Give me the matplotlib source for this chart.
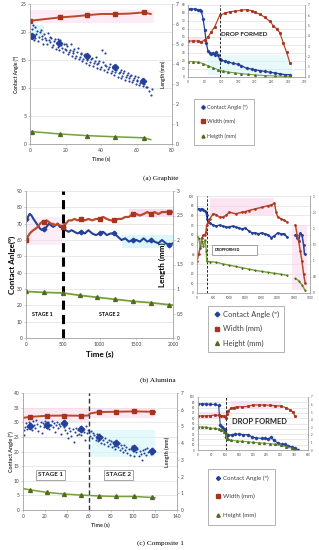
import matplotlib.pyplot as plt
from matplotlib.lines import Line2D
from matplotlib.patches import Rectangle

plt.rcParams['font.family'] = ['Lato', 'DejaVu Sans']

BLUE = '#23409A'
RED = '#A8341F'
REDLINE = '#B84A2C'
GREEN = '#76A03A'
GREENMK = '#4E6B1F'
GRID = '#D9D9D9'
AXC = '#A6A6A6'
PINK = '#FBD3EA'
CYAN = '#D3F5F8'
W, H = 319, 550

# ---------------- (a) Graphite: main chart ----------------
a_ca_t = [0, 1, 1, 2, 3, 3, 4, 5, 6, 7, 8, 9, 10, 11, 12, 13, 14, 15, 16, 17, 18, 19,
          20, 21, 22, 23, 24, 25, 26, 27, 28, 29, 30, 31, 32, 33, 34, 35, 36, 37, 38, 39,
          40, 41, 42, 43, 44, 45, 46, 47, 48, 49, 50, 51, 52, 53, 54, 55, 56, 57, 58, 59,
          60, 61, 62, 63, 64, 65, 66, 67, 68, 69]
a_ca = [19.8, 20.6, 18.9, 19.4, 20.9, 19.0, 20.2, 19.1, 20.4, 18.7, 19.6, 18.5, 19.9, 18.2,
        18.9, 17.6, 18.8, 18.0, 17.3, 18.6, 17.2, 17.9, 16.7, 17.5, 16.4, 17.8, 16.2, 16.9,
        15.8, 17.1, 15.6, 16.3, 15.2, 16.1, 15.0, 15.7, 14.6, 15.4, 14.4, 15.6, 14.2, 14.9,
        13.8, 14.6, 16.2, 13.9, 13.4, 14.3, 13.1, 14.0, 12.8, 13.6, 12.6, 13.3, 12.2, 13.0,
        12.0, 12.7, 11.8, 12.4, 11.5, 12.2, 11.2, 11.9, 10.9, 11.6, 10.7, 11.2, 10.2, 9.4,
        8.8, 9.8]
a_ca_t2 = [0.5, 1.5, 2.5, 3.5, 4.5, 5.5, 6.5, 7.5, 8.5, 9.5, 10.5, 11.5, 12.5, 13.5, 14.5,
           15.5, 16.5, 17.5, 18.5, 19.5, 20.5, 21.5, 22.5, 23.5, 24.5, 25.5, 26.5, 27.5,
           28.5, 29.5, 30.5, 31.5, 32.5, 33.5, 34.5, 35.5, 36.5, 37.5, 38.5, 39.5, 40.5,
           41.5, 42.5, 43.5, 44.5, 45.5, 46.5, 47.5, 48.5, 49.5, 50.5, 51.5, 52.5, 53.5,
           54.5, 55.5, 56.5, 57.5, 58.5, 59.5, 60.5, 61.5, 62.5, 63.5, 64.5, 65.5]
a_ca2 = [19.0, 21.3, 18.6, 19.7, 18.4, 20.0, 19.2, 17.9, 18.9, 17.8, 18.5, 19.1, 17.3, 18.4,
         17.0, 18.7, 16.8, 17.6, 16.5, 17.0, 17.9, 16.0, 16.8, 15.7, 16.6, 15.4, 16.4, 15.1,
         16.0, 14.8, 15.9, 14.5, 15.3, 14.1, 15.2, 13.9, 14.8, 13.6, 14.5, 13.4, 16.8, 13.2,
         14.1, 12.9, 13.8, 12.6, 13.5, 12.3, 13.2, 12.0, 12.9, 11.8, 12.6, 11.5, 12.3, 11.2,
         12.1, 11.0, 11.7, 10.8, 11.5, 10.5, 11.3, 10.4, 11.0, 10.1]
a_mark_t = [1, 16.6, 32, 48, 63.5]
a_mark_ca = [19.3, 18.0, 15.7, 13.8, 11.3]
a_w_t = [0, 8, 17, 25, 32, 40, 48, 56, 64, 68]
a_w = [6.16, 6.24, 6.33, 6.38, 6.44, 6.50, 6.50, 6.52, 6.58, 6.50]
a_h_t = [0, 1, 17, 32, 48, 64, 68]
a_h = [0.64, 0.62, 0.50, 0.42, 0.36, 0.31, 0.22]

# ---------------- (a) inset ----------------
ia_ca_t = [0, 10, 20, 30, 35, 40, 45, 50, 55, 60, 65, 70, 75, 80, 85, 90, 95, 100, 110, 120,
           135, 150, 160, 175, 190, 200, 215, 230, 245, 260, 275, 290, 305]
ia_ca = [85, 85, 85, 84, 84, 82, 73, 59, 42, 32, 30, 29, 30, 28, 31, 27, 22, 21, 20, 19,
         17, 16, 14, 11, 10, 9, 8, 7, 6, 5, 4, 3, 3]
ia_w_t = [0, 15, 30, 40, 50, 60, 70, 80, 95, 110, 125, 140, 160, 175, 190, 200, 215, 230,
          245, 255, 265, 275, 285, 295, 305]
ia_w = [3.5, 3.5, 3.5, 3.4, 3.6, 3.9, 4.4, 4.9, 6.0, 6.2, 6.35, 6.4, 6.5, 6.55, 6.45, 6.3,
        6.1, 5.8, 5.4, 5.0, 4.7, 4.3, 3.3, 2.4, 1.35]
ia_h_t = [0, 15, 30, 45, 60, 75, 90, 105, 120, 140, 160, 180, 200, 230, 260, 290, 305]
ia_h = [1.5, 1.5, 1.45, 1.3, 1.1, 0.9, 0.7, 0.58, 0.48, 0.4, 0.33, 0.26, 0.2, 0.14, 0.1,
        0.07, 0.06]

# ---------------- (b) Alumina: main chart ----------------
b_t = [0, 25, 50, 75, 100, 130, 160, 190, 220, 250, 280, 310, 340, 370, 400, 430, 460, 500,
       540, 580, 620, 660, 700, 750, 800, 850, 900, 950, 1000, 1050, 1100, 1150, 1200, 1250,
       1300, 1350, 1400, 1450, 1500, 1550, 1600, 1650, 1700, 1750, 1800, 1850, 1900, 1950,
       2000]
b_ca = [73, 74, 76, 75, 73, 71, 69, 67, 66, 67, 68, 70, 69, 68, 69, 70, 68, 68, 66, 65, 66,
        65, 64, 65, 64, 66, 64, 63, 64, 65, 63, 64, 64, 62, 60, 61, 59, 60, 60, 59, 61, 59,
        60, 59, 58, 60, 58, 57, 58]
b_w = [2.00, 2.07, 2.13, 2.17, 2.20, 2.23, 2.27, 2.33, 2.37, 2.37, 2.40, 2.37, 2.33, 2.33,
       2.30, 2.33, 2.30, 2.27, 2.33, 2.40, 2.40, 2.43, 2.40, 2.43, 2.40, 2.43, 2.40, 2.43,
       2.43, 2.47, 2.43, 2.40, 2.40, 2.43, 2.43, 2.47, 2.47, 2.53, 2.53, 2.50, 2.53, 2.57,
       2.53, 2.57, 2.53, 2.57, 2.57, 2.57, 2.57]
b_h_t = [0, 250, 500, 730, 970, 1210, 1450, 1700, 1940, 2000]
b_h = [0.95, 0.93, 0.92, 0.87, 0.83, 0.79, 0.75, 0.72, 0.68, 0.67]

# ---------------- (b) inset ----------------
ib_ca_t = [0, 50, 100, 150, 200, 250, 280, 300, 320, 350, 400, 500, 600, 700, 800, 900,
           1000, 1100, 1200, 1300, 1400, 1500, 1600, 1700, 1800, 1900, 2000, 2100, 2200,
           2300, 2400, 2500, 2600, 2700, 2780]
ib_ca = [87, 87, 86, 87, 86, 85, 84, 80, 76, 74, 72, 70, 69, 70, 69, 68, 68, 69, 68, 67,
         66, 67, 64, 62, 62, 61, 62, 61, 60, 57, 59, 62, 61, 61, 58]
ib_ca2_t = [3050, 3100, 3150, 3200, 3250, 3300, 3330]
ib_ca2 = [60, 57, 54, 62, 60, 50, 40]
ib_w_t = [0, 50, 100, 150, 200, 250, 280, 300, 350, 400, 500, 600, 700, 800, 900, 1000,
          1200, 1400, 1500, 1600, 1800, 2000, 2200, 2300, 2400, 2450, 2500, 2600, 2700, 2780]
ib_w = [0.98, 1.2, 1.4, 1.7, 1.8, 1.8, 1.9, 2.1, 2.2, 2.3, 2.45, 2.42, 2.34, 2.35, 2.4, 2.5,
        2.45, 2.5, 2.52, 2.55, 2.6, 2.65, 2.7, 2.72, 2.78, 2.5, 2.35, 2.3, 2.25, 2.2]
ib_w2_t = [3050, 3100, 3150, 3200, 3250, 3300, 3350]
ib_w2 = [2.1, 1.8, 1.6, 1.3, 1.0, 0.6, 0.3]
ib_h_t = [0, 50, 100, 150, 200, 250, 290, 300, 400, 600, 800, 1000, 1200, 1400, 1600, 1800,
          2000, 2200, 2400, 2600, 2780]
ib_h = [1.75, 1.7, 1.45, 1.6, 1.45, 1.65, 1.3, 0.98, 0.97, 0.95, 0.9, 0.86, 0.82, 0.78,
        0.74, 0.7, 0.67, 0.64, 0.61, 0.58, 0.55]
ib_h2_t = [3050, 3150, 3250, 3350]
ib_h2 = [0.45, 0.38, 0.25, 0.08]

# ---------------- (c) Composite 1: main chart ----------------
c_ca_t = [0.5, 1, 2, 3, 4, 5, 6, 7, 8, 9, 10, 11, 12, 13, 14, 15, 16, 17, 18, 19, 20, 21,
          22, 23, 24, 25, 26, 27, 28, 29, 30, 31, 32, 33, 34, 35, 36, 37, 38, 39, 40, 41,
          42, 43, 44, 45, 46, 47, 48, 49, 50, 51, 52, 53, 54, 55, 56, 57, 58, 59, 60, 61,
          62, 63, 64, 65, 66, 67, 68, 69, 70, 71, 72, 73, 74, 75, 76, 77, 78, 79, 80, 81,
          82, 83, 84, 85, 86, 87, 88, 89, 90, 91, 92, 93, 94, 95, 96, 97, 98, 99, 100, 101,
          102, 103, 104, 105, 106, 107, 108, 109, 110, 111, 112, 113, 114, 115, 116, 117, 118]
c_ca = [25.5, 27.2, 28.4, 29.6, 27.8, 30.1, 28.9, 29.5, 27.4, 30.3,
        29.1, 28.2, 30.6, 29.4, 27.0, 28.8, 30.0, 26.2, 29.8, 28.5,
        30.4, 29.6, 28.0, 30.2, 27.6, 29.2, 30.5, 28.3, 29.9, 26.8,
        28.9, 30.1, 27.9, 29.3, 28.6, 26.1, 29.8, 28.4, 27.2, 29.0,
        26.4, 24.6, 28.2, 26.9, 25.2, 27.6, 23.4, 26.5, 28.1, 25.8,
        27.3, 26.0, 28.4, 25.5, 27.8, 26.6, 24.1, 28.6, 26.2, 27.4,
        26.8, 25.4, 27.1, 24.6, 26.2, 25.8, 24.0, 25.9, 23.6, 25.2,
        24.4, 22.8, 25.0, 23.9, 22.4, 24.6, 23.1, 21.8, 24.0, 22.6,
        23.5, 21.4, 23.2, 22.0, 20.8, 23.4, 21.6, 22.8, 20.6, 22.1,
        21.2, 19.8, 22.3, 20.4, 21.6, 19.6, 21.0, 18.9, 20.8, 22.0,
        20.2, 18.6, 21.4, 19.7, 20.9, 18.4, 20.3, 19.1, 17.2, 20.6,
        19.4, 20.8, 18.8, 21.2, 19.9, 20.6, 19.3, 21.0, 20.1]
c_mark_t = [6, 22, 37, 53, 69, 85, 101, 117]
c_mark_ca = [28.8, 29.1, 29.7, 27.7, 24.8, 22.9, 21.1, 20.3]
c_w_t = [0, 6, 22, 37, 53, 59, 61, 69, 85, 101, 117, 120]
c_w = [5.51, 5.57, 5.64, 5.65, 5.64, 5.65, 5.78, 5.86, 5.88, 5.90, 5.88, 5.86]
c_h_t = [0, 6, 22, 37, 53, 69, 85, 101, 117, 120]
c_h = [1.28, 1.21, 1.05, 0.96, 0.89, 0.84, 0.81, 0.81, 0.75, 0.74]

# ---------------- (c) inset ----------------
ic_ca_t = [0, 15, 30, 45, 60, 75, 81, 87, 93, 99, 101, 110, 123, 135, 150, 165, 183, 195,
           210, 231, 245, 255, 265, 275, 292, 305, 316, 328, 340, 352, 364]
ic_ca = [87, 87, 87, 86, 86, 84, 47, 44, 40, 37, 25, 28, 29, 30, 30, 29, 29, 25, 23, 22,
         22, 21, 24, 19, 12.5, 11, 10.5, 8, 6, 3, 0.5]
ic_w_t = [0, 15, 30, 45, 60, 75, 85, 95, 100, 105, 110, 120, 130, 140, 160, 180, 200, 220,
          240, 260, 280, 300, 320, 335, 345, 352]
ic_w = [4.5, 4.5, 4.5, 4.55, 4.6, 4.6, 4.55, 4.5, 4.2, 4.8, 5.2, 5.5, 5.6, 5.7, 5.7, 5.75,
        5.95, 5.95, 5.95, 5.9, 5.85, 5.8, 5.6, 5.3, 5.0, 4.5]
ic_h_t = [0, 15, 30, 45, 60, 75, 85, 95, 100, 105, 110, 120, 140, 160, 180, 200, 220, 240,
          260, 280, 300, 320, 340, 350]
ic_h = [3.05, 3.05, 3.0, 2.9, 2.85, 2.8, 2.6, 2.4, 2.2, 1.5, 1.4, 1.3, 1.2, 1.15, 1.1, 1.0,
        0.95, 0.9, 0.85, 0.75, 0.6, 0.45, 0.25, 0.1]


fig = plt.figure(figsize=(W / 100, H / 100), dpi=100)


def box(x0, y0, x1, y1):
    # pixel box (top-left origin) -> figure rect
    return [x0 / W, 1 - y1 / H, (x1 - x0) / W, (y1 - y0) / H]


def style(ax, ax2, fs, tick_len=1.5):
    for a in (ax, ax2):
        for s in a.spines.values():
            s.set_color(AXC)
            s.set_linewidth(0.5)
        a.spines['top'].set_visible(False)
        a.tick_params(labelsize=fs, length=tick_len, width=0.4, color=AXC, pad=1.2,
                      labelcolor='#404040')
    ax.grid(axis='y', color=GRID, lw=0.4)
    ax.set_axisbelow(True)


def legend(x, y, fs, spacing, pad, labels, ms):
    handles = [Line2D([], [], ls='none', marker='D', color=BLUE, ms=ms * 0.85),
               Line2D([], [], ls='none', marker='s', color=RED, ms=ms),
               Line2D([], [], ls='none', marker='^', color=GREENMK, ms=ms)]
    leg = fig.legend(handles, labels, loc='upper left', bbox_to_anchor=(x / W, 1 - y / H),
                     frameon=True, fancybox=False, edgecolor=AXC, framealpha=1,
                     fontsize=fs, labelspacing=spacing, borderpad=pad, handlelength=1.0,
                     handletextpad=0.3)
    leg.get_frame().set_linewidth(0.6)
    for t in leg.get_texts():
        t.set_color('#404040')


serif = ['Liberation Serif', 'DejaVu Serif']

# ====== (a) main ======
ax = fig.add_axes(box(30, 4, 172, 144))
ax2 = ax.twinx()
style(ax, ax2, 3.6)
ax.fill_between([0, 70], 21.6, 23.9, color=PINK, lw=0, alpha=0.45)
ax.fill_between([0, 8], 19.2, 21.2, color=CYAN, lw=0, alpha=0.8)
ax.scatter(a_ca_t, a_ca, s=2.4, color=BLUE, lw=0)
ax.scatter(a_ca_t2, a_ca2, s=2.4, color=BLUE, lw=0)
ax.plot(a_mark_t, a_mark_ca, ls='none', marker='D', ms=3.2, color=BLUE)
ax2.plot(a_w_t, a_w, color=REDLINE, lw=1.4, marker='s', ms=2.6, mfc=RED, mec=RED,
         markevery=[0, 2, 4, 6, 8])
ax2.plot(a_h_t, a_h, color=GREEN, lw=1.1, marker='^', ms=2.8, mfc=GREENMK, mec=GREENMK,
         markevery=[1, 2, 3, 4, 5])
ax.set_xlim(0, 80)
ax.set_ylim(0, 25)
ax2.set_ylim(0, 7)
ax.set_xticks([0, 20, 40, 60, 80])
ax.set_yticks([0, 5, 10, 15, 20, 25])
ax2.set_yticks(range(8))
ax.set_xlabel('Time (s)', fontsize=3.8, fontweight='bold', color='#333333')
ax.xaxis.set_label_coords(0.5, -0.09)
ax.set_ylabel('Contact Angle (º)', fontsize=3.6, fontweight='bold', color='#333333')
ax.yaxis.set_label_coords(-0.075, 0.5)
ax2.set_ylabel('Length (mm)', fontsize=3.6, fontweight='bold', color='#333333')
ax2.yaxis.set_label_coords(0.92, 0.5)

# ====== (a) inset ======
ia = fig.add_axes(box(188, 5, 305, 77))
ia2 = ia.twinx()
style(ia, ia2, 2.2, 1)
ia.fill_between([0, 60], 41, 50, color=PINK, lw=0, alpha=0.6)
ia.fill_between([60, 310], 2, 28, color=CYAN, lw=0, alpha=0.5)
ia.plot(ia_ca_t, ia_ca, color=BLUE, lw=0.9, marker='D', ms=1.2)
ia2.plot(ia_w_t, ia_w, color=REDLINE, lw=0.9, marker='s', ms=1.1, mfc=RED, mec=RED)
ia2.plot(ia_h_t, ia_h, color=GREEN, lw=0.8, marker='^', ms=1.2, mfc=GREENMK, mec=GREENMK)
ia.axvline(95, color='black', ls=(0, (3, 2)), lw=0.6)
ia.text(100, 53, 'DROP FORMED', fontsize=4.6, fontweight='bold', color='#222222',
        va='center')
ia.set_xlim(0, 350)
ia.set_ylim(0, 90)
ia2.set_ylim(0, 7)
ia.set_xticks(range(0, 351, 50))
ia.set_yticks(range(0, 91, 10))
ia2.set_yticks(range(8))

legend(191, 96, 4.0, 1.55, 1.1, ['Contact Angle (º)', 'Width (mm)', 'Heigth (mm)'], 2.2)
fig.text(161 / W, 1 - 178 / H, '(a) Graphite', family=serif, fontsize=5.2, ha='center',
         va='center')

# ====== (b) main ======
bx = fig.add_axes(box(26, 191, 173, 338))
bx2 = bx.twinx()
style(bx, bx2, 3.5)
bx.fill_between([0, 500], 57, 74, color=PINK, lw=0, alpha=0.4)
bx.fill_between([1400, 2000], 74, 79, color=PINK, lw=0, alpha=0.8)
bx.fill_between([1300, 2000], 55, 63, color=CYAN, lw=0, alpha=0.8)
bx.plot(b_t, b_ca, color=BLUE, lw=1.5, marker='D', ms=2.4,
        markevery=[0, 9, 17, 23, 28, 32, 37, 42, 47])
bx2.plot(b_t, b_w, color=REDLINE, lw=1.6, marker='s', ms=2.4, mfc=RED, mec=RED,
         markevery=[0, 9, 17, 23, 28, 32, 37, 42, 47])
bx2.plot(b_h_t, b_h, color=GREEN, lw=1.3, marker='^', ms=2.8, mfc=GREENMK, mec=GREENMK,
         markevery=[0, 1, 2, 3, 4, 5, 6, 7, 8])
bx.axvline(500, color='black', ls=(0, (3, 1.7)), lw=2.2)
bx.text(222, 14.3, 'STAGE 1', fontsize=3.8, fontweight='bold', ha='center', va='center')
bx.text(1134, 14.3, 'STAGE 2', fontsize=3.8, fontweight='bold', ha='center', va='center')
bx.set_xlim(0, 2000)
bx.set_ylim(0, 90)
bx2.set_ylim(0, 3)
bx.set_xticks([0, 500, 1000, 1500, 2000])
bx.set_yticks(range(0, 91, 10))
bx2.set_yticks([0, 0.5, 1, 1.5, 2, 2.5, 3])
bx2.set_yticklabels(['0', '0.5', '1', '1.5', '2', '2.5', '3'])
bx.set_xlabel('Time (s)', fontsize=5.8, fontweight='bold')
bx.xaxis.set_label_coords(0.5, -0.085)
bx.set_ylabel('Contact Anlge(º)', fontsize=5.8, fontweight='bold')
bx.yaxis.set_label_coords(-0.07, 0.5)
bx2.set_ylabel('Length (mm)', fontsize=5.8, fontweight='bold')
bx2.yaxis.set_label_coords(0.9, 0.5)

# ====== (b) inset ======
ib = fig.add_axes(box(197, 196, 310, 293))
ib2 = ib.twinx()
style(ib, ib2, 2.1, 1)
ib.fill_between([400, 2400], 80, 98, color=PINK, lw=0, alpha=0.6)
ib.fill_between([2950, 3400], 3, 70, color=PINK, lw=0, alpha=0.5)
ib.plot(ib_ca_t, ib_ca, color=BLUE, lw=1.1, marker='D', ms=0.9)
ib.plot(ib_ca2_t, ib_ca2, color=BLUE, lw=1.1, marker='D', ms=0.9)
ib2.plot(ib_w_t, ib_w, color=REDLINE, lw=1.1, marker='s', ms=0.8, mfc=RED, mec=RED)
ib2.plot(ib_w2_t, ib_w2, color=REDLINE, lw=1.1, marker='s', ms=0.8, mfc=RED, mec=RED)
ib2.plot(ib_h_t, ib_h, color=GREEN, lw=1.0, marker='^', ms=0.8, mfc=GREENMK, mec=GREENMK)
ib2.plot(ib_h2_t, ib_h2, color=GREEN, lw=1.0, marker='^', ms=0.8, mfc=GREENMK, mec=GREENMK)
ib.axvline(300, color='black', ls=(0, (3, 2)), lw=0.6)
ib.add_patch(Rectangle((0.13, 0.39), 0.40, 0.10, transform=ib.transAxes, fc='white',
                       ec='#808080', lw=0.5, zorder=5))
ib.text(0.16, 0.44, 'DROPFORMED', transform=ib.transAxes, fontsize=2.6,
        fontweight='bold', va='center', zorder=6)
ib.set_xlim(0, 3500)
ib.set_ylim(0, 100)
ib2.set_ylim(0, 3)
ib.set_xticks(range(0, 3501, 500))
ib.set_yticks(range(0, 101, 10))
ib2.set_yticks([0, 0.5, 1, 1.5, 2, 2.5, 3])
ib2.set_yticklabels(['0', '0.5', '1', '1.5', '2', '2.5', '3'])

legend(204, 302, 5.4, 0.95, 0.7, ['Contact Angle (º)', 'Width (mm)', 'Height (mm)'], 2.8)
fig.text(158 / W, 1 - 380 / H, '(b) Alumina', family=serif, fontsize=5.2, ha='center',
         va='center')

# ====== (c) main ======
cx = fig.add_axes(box(23, 393, 177, 510))
cx2 = cx.twinx()
style(cx, cx2, 3.4)
cx.fill_between([0, 60], 30, 35, color=PINK, lw=0, alpha=0.5)
cx.fill_between([60, 120], 31.5, 35, color=PINK, lw=0, alpha=0.5)
cx.fill_between([60, 120], 18, 27.5, color=CYAN, lw=0, alpha=0.6)
cx.scatter(c_ca_t, c_ca, s=2.2, color=BLUE, lw=0)
cx.plot(c_mark_t, c_mark_ca, ls='none', marker='D', ms=3.4, color=BLUE)
cx2.plot(c_w_t, c_w, color=REDLINE, lw=1.4, marker='s', ms=2.8, mfc=RED, mec=RED,
         markevery=[1, 2, 3, 4, 7, 8, 9, 10])
cx2.plot(c_h_t, c_h, color=GREEN, lw=1.1, marker='^', ms=2.8, mfc=GREENMK, mec=GREENMK,
         markevery=[1, 2, 3, 4, 5, 6, 7, 8])
cx.axvline(60, color='#333333', ls=(0, (3.5, 2)), lw=1.0)
for label, xpos in (('STAGE 1', 24.8), ('STAGE 2', 86.7)):
    cx.text(xpos, 12, label, fontsize=4.6, fontweight='bold', ha='center', va='center',
            color='#222222',
            bbox=dict(boxstyle='square,pad=0.35', fc='white', ec='#808080', lw=0.5))
cx.set_xlim(0, 140)
cx.set_ylim(0, 40)
cx2.set_ylim(0, 7)
cx.set_xticks(range(0, 141, 20))
cx.set_yticks(range(0, 41, 5))
cx2.set_yticks(range(8))
cx.set_xlabel('Time (s)', fontsize=3.9, fontweight='bold', color='#333333')
cx.xaxis.set_label_coords(0.5, -0.11)
cx.set_ylabel('Contact Angle (º)', fontsize=3.9, fontweight='bold', color='#333333')
cx.yaxis.set_label_coords(-0.06, 0.5)
cx2.set_ylabel('Length (mm)', fontsize=3.9, fontweight='bold', color='#333333')
cx2.yaxis.set_label_coords(0.92, 0.5)

# ====== (c) inset ======
ic = fig.add_axes(box(198, 397, 308, 450))
ic2 = ic.twinx()
style(ic, ic2, 2.0, 1)
ic.fill_between([0, 100], 58, 72, color=PINK, lw=0, alpha=0.6)
ic.fill_between([120, 300], 78, 92, color=PINK, lw=0, alpha=0.6)
ic.plot(ic_ca_t, ic_ca, color=BLUE, lw=0.8, marker='D', ms=1.3)
ic2.plot(ic_w_t, ic_w, color=REDLINE, lw=0.9, marker='s', ms=1.1, mfc=RED, mec=RED)
ic2.plot(ic_h_t, ic_h, color=GREEN, lw=0.8, marker='^', ms=1.3, mfc=GREENMK, mec=GREENMK)
ic.axvline(100, color='black', ls=(0, (3, 2)), lw=0.6)
ic.text(125, 53, 'DROP FORMED', fontsize=5.4, fontweight='bold', color='#222222',
        va='center')
ic.set_xlim(0, 400)
ic.set_ylim(0, 100)
ic2.set_ylim(0, 7)
ic.set_xticks(range(0, 401, 50))
ic.set_yticks(range(0, 101, 10))
ic2.set_yticks(range(8))

legend(205, 466, 4.4, 2.1, 1.1, ['Contact Angle (º)', 'Width (mm)', 'Height (mm)'], 2.4)
fig.text(160 / W, 1 - 543 / H, '(c) Composite 1', family=serif, fontsize=5.2, ha='center',
         va='center')

fig.savefig('out.png', dpi=100, facecolor='white')
